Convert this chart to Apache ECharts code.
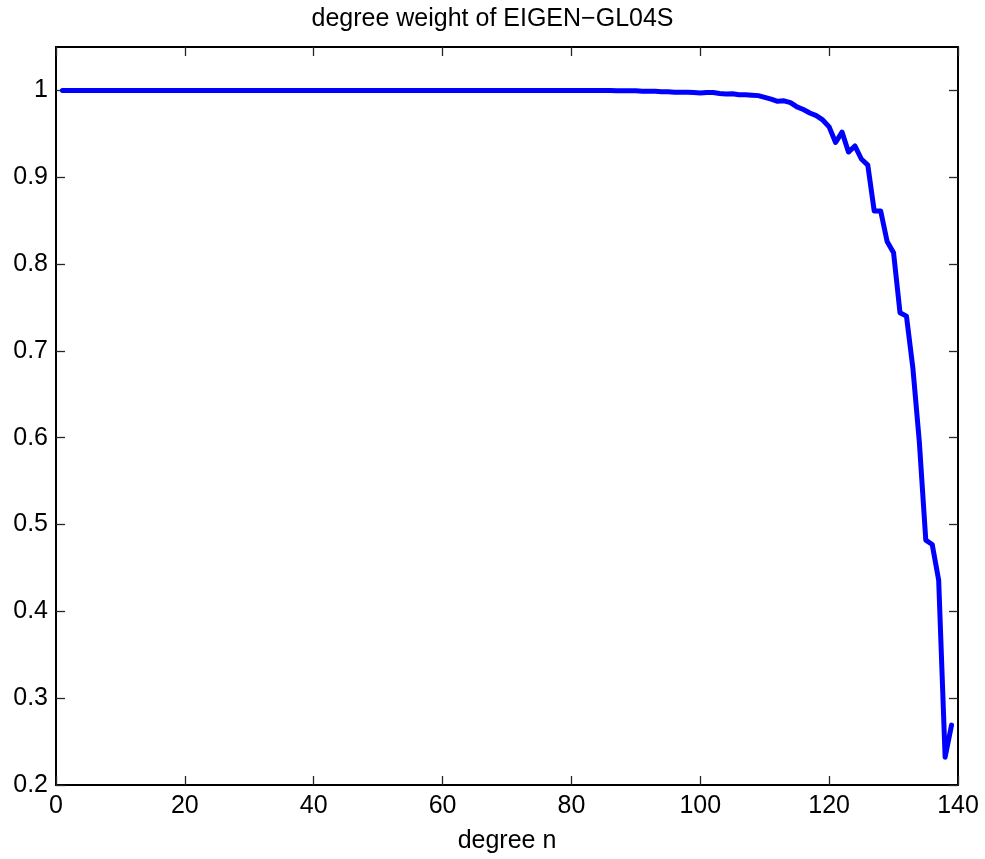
<!DOCTYPE html>
<html>
<head>
<meta charset="utf-8">
<script src="https://cdn.jsdelivr.net/npm/echarts@6/dist/echarts.min.js"></script>
<style>
  html, body { margin: 0; padding: 0; background: #fff; }
  #chart { width: 985px; height: 859px; }
</style>
</head>
<body>
<div id="chart"></div>
<script>
// Spherical harmonic degree n and its weight
const degrees = [];
for (let n = 1; n <= 139; n++) degrees.push(n);

const weights = [
  // n = 1..80
  1,1,1,1,1,1,1,1,1,1, 1,1,1,1,1,1,1,1,1,1,
  1,1,1,1,1,1,1,1,1,1, 1,1,1,1,1,1,1,1,1,1,
  1,1,1,1,1,1,1,1,1,1, 1,1,1,1,1,1,1,1,1,1,
  1,1,1,1,1,1,1,1,1,1, 1,1,1,1,1,1,1,1,1,1,
  // n = 81..100
  1, 1, 0.9999, 0.9999, 0.9998, 0.9998, 0.9997, 0.9996, 0.9995, 0.9995,
  0.999, 0.999, 0.999, 0.9985, 0.9985, 0.998, 0.998, 0.9978, 0.9975, 0.997,
  // n = 101..120
  0.9975, 0.9975, 0.9965, 0.996, 0.9962, 0.995, 0.995, 0.9945, 0.994, 0.992,
  0.990, 0.9875, 0.988, 0.986, 0.981, 0.978, 0.974, 0.971, 0.966, 0.958,
  // n = 121..139
  0.940, 0.952, 0.929, 0.936, 0.921, 0.914, 0.861, 0.861, 0.826, 0.813,
  0.744, 0.740, 0.680, 0.595, 0.482, 0.477, 0.436, 0.232, 0.269
];

const xTicks = [0, 20, 40, 60, 80, 100, 120, 140];
const yTicks = [0.2, 0.3, 0.4, 0.5, 0.6, 0.7, 0.8, 0.9, 1];

const FONT = '"Liberation Sans", Arial, Helvetica, sans-serif';
const FS = 25;
const points = degrees.map((n, i) => [n, weights[i]]);

const tickStyle = (vals) => ({
  show: true, inside: true, length: 9, customValues: vals,
  lineStyle: { color: '#262626', width: 1.3 }
});
const lineStyle = { show: true, onZero: false, lineStyle: { color: '#000', width: 2 } };

const chart = echarts.init(document.getElementById('chart'), null, { renderer: 'canvas' });
chart.setOption({
  backgroundColor: '#fff',
  animation: false,
  title: {
    text: 'degree weight of EIGEN\u2212GL04S',
    left: 'center',
    top: 2,
    textStyle: { fontFamily: FONT, fontSize: FS, fontWeight: 'normal', color: '#000' }
  },
  grid: { left: 56, right: 27, top: 47, bottom: 74, containLabel: false },
  xAxis: [{
    type: 'value', min: 0, max: 140, interval: 20,
    name: 'degree n', nameLocation: 'middle', nameGap: 44,
    nameTextStyle: { fontFamily: FONT, fontSize: FS, color: '#000' },
    axisLine: lineStyle, axisTick: tickStyle(xTicks),
    axisLabel: { fontFamily: FONT, fontSize: FS, color: '#000', margin: 9,
      customValues: xTicks, formatter: v => String(v) },
    splitLine: { show: false }
  }, {
    type: 'value', min: 0, max: 140, interval: 20, position: 'top',
    axisLine: lineStyle, axisTick: tickStyle(xTicks),
    axisLabel: { show: false }, splitLine: { show: false }
  }],
  yAxis: [{
    type: 'value', min: 0.2, max: 1.05, interval: 0.1,
    axisLine: lineStyle, axisTick: tickStyle(yTicks),
    axisLabel: { fontFamily: FONT, fontSize: FS, color: '#000', margin: 8,
      customValues: yTicks, formatter: v => String(Math.round(v * 10) / 10) },
    splitLine: { show: false }
  }, {
    type: 'value', min: 0.2, max: 1.05, interval: 0.1, position: 'right',
    axisLine: lineStyle, axisTick: tickStyle(yTicks),
    axisLabel: { show: false }, splitLine: { show: false }
  }],
  series: [{
    type: 'line',
    data: points,
    xAxisIndex: 0, yAxisIndex: 0,
    showSymbol: false,
    lineStyle: { color: '#0000ff', width: 5, join: 'round', cap: 'round' },
    clip: true
  }]
});
</script>
</body>
</html>
